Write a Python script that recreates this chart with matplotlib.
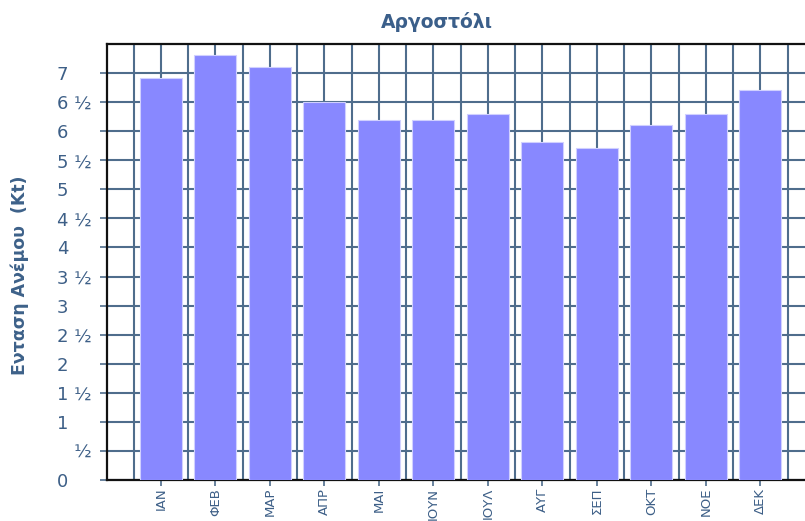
import numpy as np
import matplotlib
matplotlib.use("Agg")
import matplotlib.pyplot as plt

# données
mois = ["ΙΑΝ", "ΦΕΒ", "ΜΑΡ", "ΑΠΡ", "ΜΑΙ", "ΙΟΥΝ", "ΙΟΥΛ", "ΑΥΓ", "ΣΕΠ", "ΟΚΤ", "ΝΟΕ", "ΔΕΚ"]
vitesse = [6.91, 7.31, 7.11, 6.51, 6.20, 6.20, 6.29, 5.82, 5.71, 6.11, 6.29, 6.71]
y_ticks = [i * 0.5 for i in range(15)]
y_labels = ["0", "\u2007 ½", "1", "1 ½", "2", "2 ½", "3", "3 ½", "4", "4 ½",
            "5", "5 ½", "6", "6 ½", "7"]

couleur_texte = '#3d5f87'
couleur_grille = '#4f6d8c'

fig = plt.figure(figsize=(8.05, 5.21), dpi=100)
ax = fig.add_axes([107 / 805, 41 / 521, 698 / 805, 436 / 521])

x = np.arange(len(mois))
ax.bar(x, vitesse, width=0.77, color='#8888ff', edgecolor='#d0d0ff', linewidth=0.8, zorder=3)

ax.set_xlim(-0.99, 11.82)
ax.set_ylim(0, 7.5)

ax.set_xticks(x)
ax.set_xticklabels(mois, rotation=90, fontsize=9.5, color=couleur_texte,
                   family=['Liberation Sans Narrow', 'DejaVu Sans'])
ax.set_xticks(np.arange(-0.5, 12, 1.0), minor=True)
ax.set_yticks(y_ticks)
ax.set_yticklabels(y_labels, fontsize=13, color=couleur_texte, ha='left')

ax.tick_params(axis='x', which='major', length=4, width=1.2, color=couleur_grille, pad=1.5)
ax.tick_params(axis='x', which='minor', length=0)
ax.tick_params(axis='y', length=5, width=1.2, color=couleur_grille, pad=31)

ax.grid(True, which='both', axis='x', color=couleur_grille, linewidth=1.5, zorder=1)
ax.grid(True, which='major', axis='y', color=couleur_grille, linewidth=1.5, zorder=1)
ax.set_axisbelow(True)

for cote in ['left', 'bottom', 'top']:
    ax.spines[cote].set_color('#111111')
    ax.spines[cote].set_linewidth(1.6)
ax.spines['right'].set_visible(False)

fig.text(437 / 805, 1 - 22 / 521, 'Αργοστόλι', ha='center', va='center',
         fontsize=13.5, fontweight='bold', color='#3b5f8a')
fig.text(20 / 805, 1 - 275 / 521, 'Ενταση Ανέμου  (Kt)', ha='center', va='center',
         rotation=90, fontsize=12.5, fontweight='bold', color='#3d6189')

plt.savefig('out.png', dpi=100)
